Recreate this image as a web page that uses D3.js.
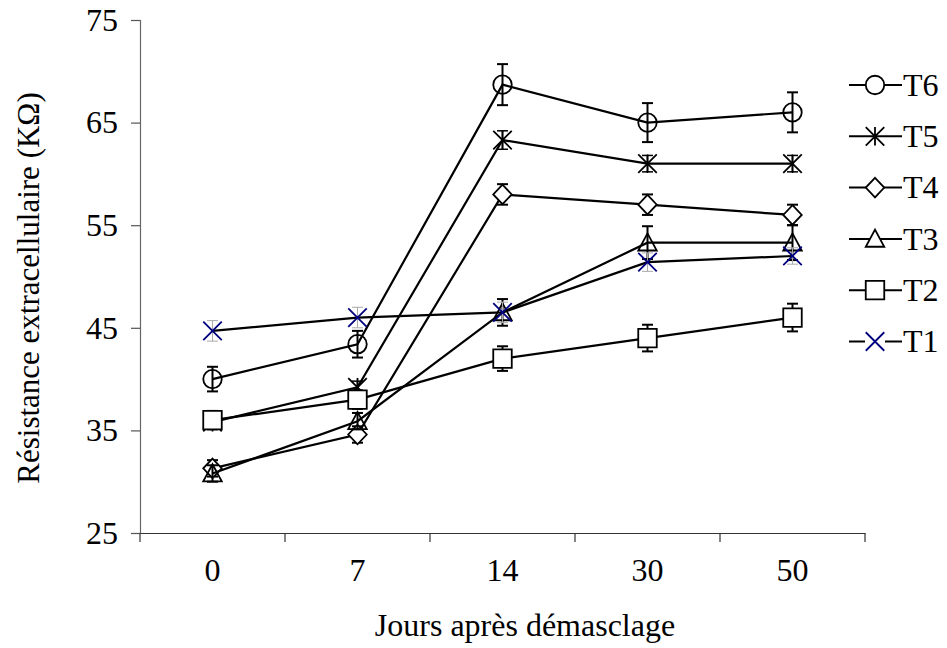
<!DOCTYPE html>
<html>
<head>
<meta charset="utf-8">
<script src="https://cdn.jsdelivr.net/npm/d3@7"></script>
<style>
  html, body { margin: 0; padding: 0; background: #fff; }
  svg text { font-family: "Liberation Serif", "Times New Roman", serif; fill: #000; }
</style>
</head>
<body>
<svg id="chart" width="947" height="648"></svg>
<script>
// Days after cork stripping
const days = ["0", "7", "14", "30", "50"];

// Extracellular resistance (kΩ) per treatment, with standard errors
const seriesNames = ["T6", "T5", "T4", "T3", "T2", "T1"];
const t6 = [40.0, 43.4, 68.7, 65.0, 66.0];
const t6Err = [1.2, 1.3, 2.0, 1.9, 1.95];
const t5 = [35.8, 39.2, 63.3, 61.0, 61.0];
const t5Err = [0.5, 0.6, 0.9, 0.8, 0.8];
const t4 = [31.3, 34.6, 58.0, 57.0, 56.0];
const t4Err = [0.8, 0.8, 1.0, 1.0, 1.0];
const t3 = [30.8, 35.9, 46.5, 53.3, 53.3];
const t3Err = [0.8, 0.8, 1.3, 1.6, 1.7];
const t2 = [36.0, 38.0, 42.0, 44.0, 46.0];
const t2Err = [0.9, 0.9, 1.2, 1.3, 1.35];
const t1 = [44.7, 46.0, 46.5, 51.4, 52.0];
const t1Err = [1.0, 1.0, 1.0, 0.9, 0.8];

const yTicks = [25, 35, 45, 55, 65, 75];

const series = [
  { name: "T6", values: t6, err: t6Err, marker: "circle",   color: "#000", errColor: "#000", errWidth: 2, fill: "none" },
  { name: "T5", values: t5, err: t5Err, marker: "asterisk", color: "#000", errColor: "#000", errWidth: 1.5, fill: "none" },
  { name: "T4", values: t4, err: t4Err, marker: "diamond",  color: "#000", errColor: "#000", errWidth: 2, fill: "#fff" },
  { name: "T3", values: t3, err: t3Err, marker: "triangle", color: "#000", errColor: "#000", errWidth: 2, fill: "none" },
  { name: "T2", values: t2, err: t2Err, marker: "square",   color: "#000", errColor: "#000", errWidth: 2, fill: "#fff" },
  { name: "T1", values: t1, err: t1Err, marker: "x",        color: "#000080", errColor: "#aaa", errWidth: 1, fill: "none" }
];

const svg = d3.select("#chart");
const plotLeft = 140, plotRight = 865, plotTop = 20, plotBottom = 533;
const fontSize = 32;

const x = d3.scaleBand().domain(days).range([plotLeft, plotRight]).padding(0);
const y = d3.scaleLinear().domain([25, 75]).range([plotBottom, plotTop]);
const cx = d => x(d) + x.bandwidth() / 2;

// marker shapes, centred on the origin
function markerPath(type, s) {
  const p = d3.path();
  const h = s / 2;
  switch (type) {
    case "circle":
      p.arc(0, 0, h, 0, 2 * Math.PI); break;
    case "square":
      p.rect(-h, -h, s, s); break;
    case "diamond":
      p.moveTo(0, -h - 0.5); p.lineTo(h, 0); p.lineTo(0, h + 0.5); p.lineTo(-h, 0); p.closePath(); break;
    case "triangle":
      p.moveTo(0, -h); p.lineTo(h, h * 0.85); p.lineTo(-h, h * 0.85); p.closePath(); break;
    case "x":
      p.moveTo(-h, -h); p.lineTo(h, h); p.moveTo(-h, h); p.lineTo(h, -h); break;
    case "asterisk":
      p.moveTo(-h, -h); p.lineTo(h, h); p.moveTo(-h, h); p.lineTo(h, -h);
      p.moveTo(0, -h); p.lineTo(0, h); break;
  }
  return p.toString();
}

// axes
const yAxis = d3.axisLeft(y).tickValues(yTicks).tickSize(9).tickPadding(13);
const gy = svg.append("g").attr("transform", `translate(${plotLeft},0)`).call(yAxis);
gy.select(".domain").attr("stroke", "#666").attr("stroke-width", 1.2);
gy.selectAll(".tick line").attr("stroke", "#555").attr("stroke-width", 1.2);
gy.selectAll(".tick text").attr("font-size", fontSize).style("font-family", "Liberation Serif");

const xAxis = d3.axisBottom(x).tickSize(0).tickPadding(25);
const gx = svg.append("g").attr("transform", `translate(0,${plotBottom})`).call(xAxis);
gx.select(".domain").attr("stroke", "#333").attr("stroke-width", 1.2);
gx.selectAll(".tick text").attr("font-size", fontSize).style("font-family", "Liberation Serif");

// tick marks sit on the category boundaries
const bounds = days.map(d => x(d)).concat([x(days[days.length - 1]) + x.bandwidth()]);
gx.selectAll("line.bound").data(bounds).join("line")
  .attr("class", "bound")
  .attr("x1", d => d).attr("x2", d => d)
  .attr("y1", 0).attr("y2", 9)
  .attr("stroke", "#333").attr("stroke-width", 1.2);

// axis titles
svg.append("text")
  .attr("transform", "translate(39,288) rotate(-90)")
  .attr("text-anchor", "middle")
  .attr("font-size", 31)
  .text("Résistance extracellulaire (KΩ)");

svg.append("text")
  .attr("x", 525).attr("y", 636)
  .attr("text-anchor", "middle")
  .attr("font-size", fontSize)
  .text("Jours après démasclage");

// series: line, error bars, then markers
const line = d3.line().x((d, i) => cx(days[i])).y(d => y(d));
const capW = 5.5;

series.forEach(s => {
  const g = svg.append("g").attr("class", "series-" + s.name);
  g.append("path")
    .attr("d", line(s.values))
    .attr("fill", "none").attr("stroke", "#000").attr("stroke-width", 2.2);

  const pts = s.values.map((v, i) => ({ day: days[i], v, e: s.err[i] }));
  const eb = g.selectAll("g.err").data(pts).join("g").attr("class", "err")
    .attr("stroke", s.errColor).attr("stroke-width", s.errWidth).attr("fill", "none");
  eb.append("line")
    .attr("x1", d => cx(d.day)).attr("x2", d => cx(d.day))
    .attr("y1", d => y(d.v + d.e)).attr("y2", d => y(d.v - d.e));
  eb.append("line")
    .attr("x1", d => cx(d.day) - capW).attr("x2", d => cx(d.day) + capW)
    .attr("y1", d => y(d.v + d.e)).attr("y2", d => y(d.v + d.e));
  eb.append("line")
    .attr("x1", d => cx(d.day) - capW).attr("x2", d => cx(d.day) + capW)
    .attr("y1", d => y(d.v - d.e)).attr("y2", d => y(d.v - d.e));

  g.selectAll("path.mk").data(pts).join("path").attr("class", "mk")
    .attr("transform", d => `translate(${cx(d.day)},${y(d.v)})`)
    .attr("d", markerPath(s.marker, 18.5))
    .attr("fill", s.fill)
    .attr("stroke", s.color)
    .attr("stroke-width", 1.8);
});

// legend
const legend = svg.append("g").attr("class", "legend");
const lg = legend.selectAll("g").data(series).join("g")
  .attr("transform", (d, i) => `translate(0,${85 + i * 51.3})`);
lg.append("line")
  .attr("x1", 849).attr("x2", 902).attr("y1", 0).attr("y2", 0)
  .attr("stroke", "#000").attr("stroke-width", 2);
lg.filter(d => d.marker === "x").append("rect")
  .attr("x", 865).attr("y", -1.5).attr("width", 20).attr("height", 3).attr("fill", "#fff");
lg.append("path")
  .attr("transform", "translate(875,0)")
  .attr("d", d => markerPath(d.marker, 18.5))
  .attr("fill", d => d.marker === "x" || d.marker === "asterisk" ? "none" : "#fff")
  .attr("stroke", d => d.color)
  .attr("stroke-width", 1.8);
lg.append("text")
  .attr("x", 903).attr("y", 0).attr("dy", "0.34em")
  .attr("font-size", fontSize)
  .text(d => d.name);
</script>
</body>
</html>
